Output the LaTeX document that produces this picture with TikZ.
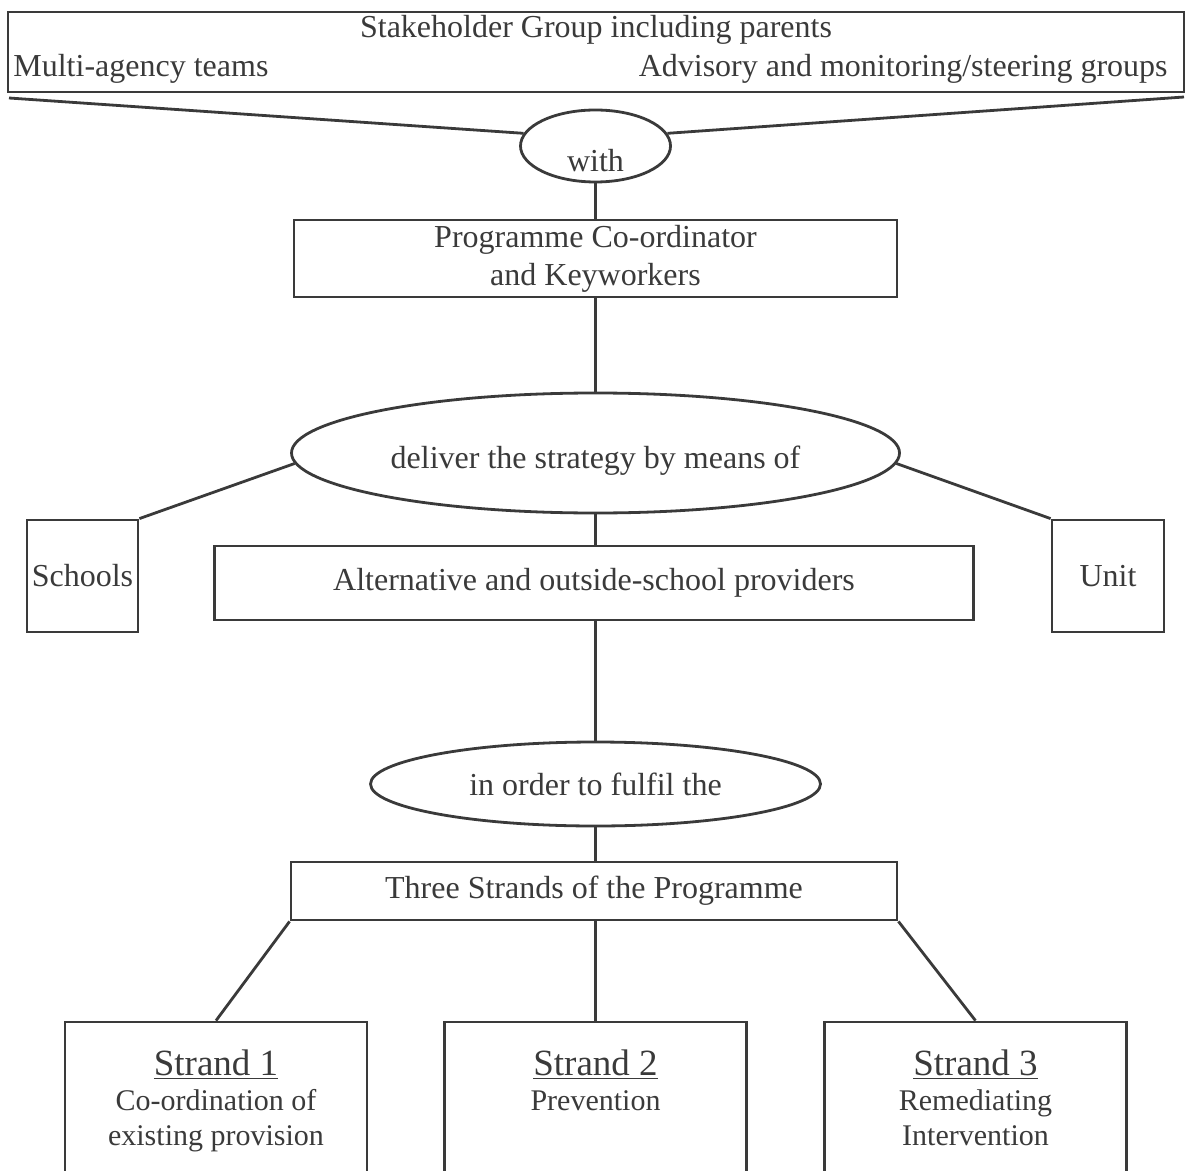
\documentclass[tikz,border=0pt]{standalone}
\usepackage{fontspec}
\setmainfont{Liberation Serif}
\usepackage{tikz}
\usetikzlibrary{shapes.geometric}
\definecolor{ink}{HTML}{3A3A3A}
\tikzset{
basenode/.style = {align=center, inner sep=0pt, text=ink, font=\fontsize{16}{19}\selectfont},% common text settings
box_n/.style = {basenode, rectangle, draw=ink, line width=1.4pt},% plain box
ell_n/.style = {basenode, ellipse, draw=ink, line width=1.4pt},% oval link word
txt_n/.style = {basenode, anchor=base},% free text, set on its baseline
head_n/.style = {txt_n, font=\fontsize{18.5}{22}\selectfont},% strand title
sub_n/.style = {txt_n, font=\fontsize{15}{17.5}\selectfont},% strand content
link/.style = {draw=ink, line width=1.4pt}
}

\begin{document}
\begin{tikzpicture}[x=0.5pt, y=-0.5pt]
  \useasboundingbox (0,0) rectangle (1186,1170);
  \clip (0,0) rectangle (1186,1170);
	% top group
	\node [box_n, minimum width=588pt, minimum height=40pt] (stake) at (596,52) {};
	\node [txt_n] (stake1) at (596,38) {Stakeholder Group including parents};
	\node [txt_n, anchor=base west] (multi) at (13,77) {Multi-agency teams};
	\node [txt_n, anchor=base east] (advis) at (1168,77) {Advisory and monitoring/steering groups};
	\coordinate (stakeL) at (9,98);
	\coordinate (stakeR) at (1184,97);
	% with / co-ordinator
	\node [ell_n, minimum width=75pt, minimum height=36pt] (with) at (595.5,146) {};
	\node [txt_n] (withtxt) at (595.5,172) {with};
	\node [box_n, minimum width=301.5pt, minimum height=38.5pt] (coord) at (595.5,258.5) {Programme Co-ordinator\\ and Keyworkers};
	% delivery
	\node [ell_n, minimum width=304pt, minimum height=60pt] (deliver) at (595.5,453) {};
	\node [txt_n] (delivtxt) at (595.5,468) {deliver the strategy by means of};
	\node [box_n, minimum width=55.5pt, minimum height=56pt] (schools) at (82.5,576) {Schools};
	\node [box_n, minimum width=56pt, minimum height=56pt] (unit) at (1108,576) {Unit};
	\node [box_n, minimum width=379.5pt, minimum height=37pt] (alt) at (594,583) {Alternative and outside-school providers};
	\node [ell_n, minimum width=225pt, minimum height=42pt] (order) at (595.5,784) {in order to fulfil the};
	\node [box_n, minimum width=303pt, minimum height=29pt] (three) at (594,891) {Three Strands of the Programme};
	% strands
	\foreach \i/\x in {1/216, 2/595.5, 3/975.5}
	  \node [box_n, minimum width=151pt, minimum height=80pt] (s\i) at (\x,1102) {};
	\node [head_n] (s1h) at (216,1075) {\underline{Strand 1}};
	\node [sub_n] (s1a) at (216,1110) {Co-ordination of};
	\node [sub_n] (s1b) at (216,1145) {existing provision};
	\node [head_n] (s2h) at (595.5,1075) {\underline{Strand 2}};
	\node [sub_n] (s2a) at (595.5,1110) {Prevention};
	\node [head_n] (s3h) at (975.5,1075) {\underline{Strand 3}};
	\node [sub_n] (s3a) at (975.5,1110) {Remediating};
	\node [sub_n] (s3b) at (975.5,1145) {Intervention};
	% connectors
	\draw [link] (stakeL) -- (with.170);
	\draw [link] (stakeR) -- (with.10);
	\draw [link] (with.south) -- (coord.north);
	\draw [link] (coord.south) -- (deliver.north);
	\draw [link] (schools.north east) -- (deliver.182);
	\draw [link] (unit.north west) -- (deliver.-2);
	\draw [link] (deliver.south) -- (deliver.south |- alt.north);
	\draw [link] (order.north |- alt.south) -- (order.north);
	\draw [link] (order.south) -- (order.south |- three.north);
	\draw [link] (three.south west) -- (s1.north);
	\draw [link] (s2.north |- three.south) -- (s2.north);
	\draw [link] (three.south east) -- (s3.north);
\end{tikzpicture}
\end{document}
